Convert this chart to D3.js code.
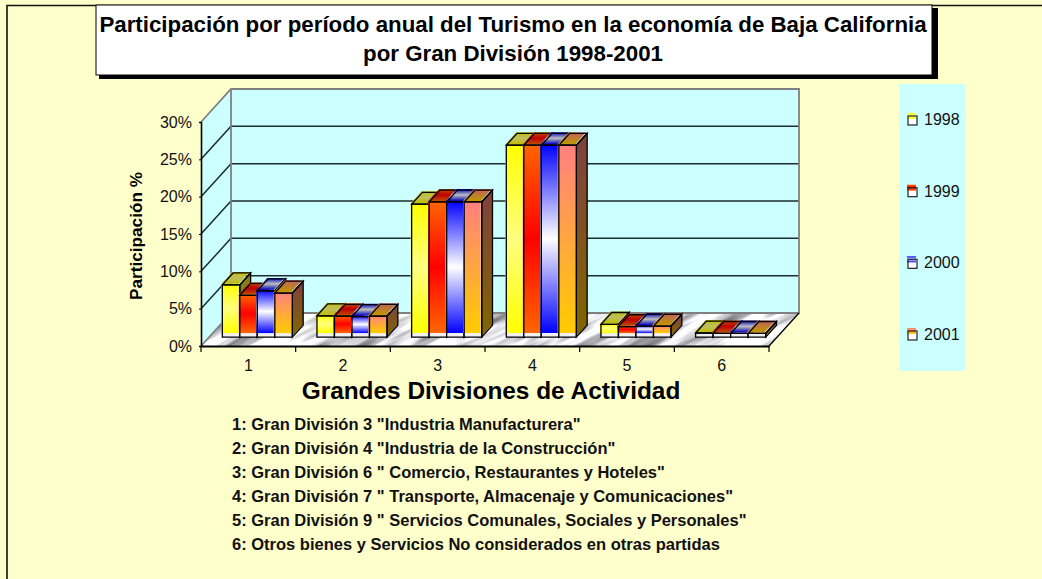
<!DOCTYPE html>
<html>
<head>
<meta charset="utf-8">
<script src="https://cdn.jsdelivr.net/npm/d3@7"></script>
<style>
  body { margin: 0; background: #ffffcc; }
  svg { display: block; font-family: "Liberation Sans", Arial, sans-serif; }
</style>
</head>
<body>
<script>
const years = ["1998", "1999", "2000", "2001"];
const divisions = ["1", "2", "3", "4", "5", "6"];
const values1998 = [7.0, 2.85, 17.8, 25.7, 1.7, 0.55];
const values1999 = [5.6, 2.8, 18.1, 25.7, 1.4, 0.5];
const values2000 = [6.2, 2.75, 18.1, 25.7, 1.47, 0.5];
const values2001 = [5.9, 2.8, 18.1, 25.7, 1.47, 0.5];
const yTicks = [0, 5, 10, 15, 20, 25, 30];
const titleLines = [
  "Participación por período anual del Turismo en la economía de Baja California",
  "por Gran División 1998-2001"
];
const notes = [
  '1: Gran División 3 "Industria Manufacturera"',
  '2: Gran División 4 "Industria de la Construcción"',
  '3: Gran División 6 " Comercio, Restaurantes y Hoteles"',
  '4: Gran División 7 " Transporte, Almacenaje y Comunicaciones"',
  '5: Gran División 9 " Servicios Comunales, Sociales y Personales"',
  "6: Otros bienes y Servicios No considerados en otras partidas"
];
const seriesValues = [values1998, values1999, values2000, values2001];
const seriesStops = [
  ["#ffff00", "#ffff80", "#ffff00"],
  ["#ff6600", "#ff0000", "#ff6600"],
  ["#0000ff", "#ffffff", "#0000ff"],
  ["#ff8080", "#ffcc00"]
];

const width = 1042, height = 579;
const svg = d3.select("body").append("svg").attr("width", width).attr("height", height);
const defs = svg.append("defs");

// plot geometry: front plane of the floor, and how far back the wall sits
const left = 201, right = 769, base = 346;
const depthX = 30, depthY = -33;

const x = d3.scaleBand().domain(divisions).range([left, right]);
const y = d3.scaleLinear().domain([0, 30]).range([base, base - 224]);
const inner = d3.scaleBand().domain(years).range([0, x.bandwidth() * 0.74]);

const barZ = 0.3, barDepth = 0.36; // bars stand inside the floor depth
const bw = inner.bandwidth();

function shade(c, k) {
  const r = d3.rgb(c);
  return d3.rgb(r.r * k, r.g * k, r.b * k).formatHex();
}
function gradient(id, stops, k) {
  const g = defs.append("linearGradient").attr("id", id)
    .attr("x1", 0).attr("y1", 0).attr("x2", 0).attr("y2", 1);
  stops.forEach((s, i) => {
    g.append("stop")
      .attr("offset", i / (stops.length - 1))
      .attr("stop-color", shade(s, k));
  });
}
seriesStops.forEach((stops, i) => {
  gradient("front" + i, stops, 1);
  gradient("top" + i, stops, 0.75);
  gradient("side" + i, stops, 0.5);
});

// marble floor
const marble = defs.append("filter").attr("id", "marble")
  .attr("x", 0).attr("y", 0).attr("width", 1).attr("height", 1)
  .attr("color-interpolation-filters", "sRGB");
marble.append("feTurbulence").attr("type", "fractalNoise")
  .attr("baseFrequency", "0.012 0.09").attr("numOctaves", 3).attr("seed", 7);
marble.append("feColorMatrix").attr("type", "matrix")
  .attr("values", "1.5 0 0 0 0.12  1.5 0 0 0 0.12  1.5 0 0 0 0.14  0 0 0 0 1");
defs.append("clipPath").attr("id", "floorClip").append("polygon")
  .attr("points", [[left, base], [left + depthX, base + depthY], [right + depthX, base + depthY], [right, base]].join(" "));

// outer frame, only top and left show
svg.append("path").attr("d", `M7,${height}V5.5H${width}`)
  .attr("fill", "none").attr("stroke", "#111").attr("stroke-width", 1.6);

// walls
const wall = svg.append("g");
wall.append("rect")
  .attr("x", left + depthX).attr("y", y(30) + depthY)
  .attr("width", right - left).attr("height", 224)
  .attr("fill", "#ccffff");
wall.append("polygon")
  .attr("points", [[left, y(30)], [left + depthX, y(30) + depthY], [left + depthX, base + depthY], [left, base]].join(" "))
  .attr("fill", "#ccffff");

wall.append("g").attr("clip-path", "url(#floorClip)")
  .append("rect")
  .attr("x", 100).attr("y", 80).attr("width", 900).attr("height", 400)
  .attr("transform", "rotate(-28 480 330)")
  .attr("filter", "url(#marble)");

// gridlines on the two walls
wall.selectAll(".grid").data(yTicks.slice(1, -1)).join("path")
  .attr("class", "grid")
  .attr("d", d => `M${left},${y(d)}L${left + depthX},${y(d) + depthY}H${right + depthX}`)
  .attr("fill", "none").attr("stroke", "#1c2c2c").attr("stroke-width", 1.5);

// wall edges
wall.append("path")
  .attr("d", `M${left},${y(30)}L${left + depthX},${y(30) + depthY}H${right + depthX}V${base + depthY}H${left + depthX}V${y(30) + depthY}M${left},${base}L${left + depthX},${base + depthY}`)
  .attr("fill", "none").attr("stroke", "#808080").attr("stroke-width", 1.8);
wall.append("path")
  .attr("d", `M${right},${base}L${right + depthX},${base + depthY}`)
  .attr("stroke", "#000").attr("stroke-width", 1.3);

// bars, left to right so each front covers its neighbour's side
const ox = depthX * barZ, oy = depthY * 0.27;
const dx = depthX * barDepth, dy = depthY * barDepth;

function barShapes(xl, top, bottom) {
  const xr = xl + bw;
  return {
    front: `M${xl},${top}H${xr}V${bottom}H${xl}Z`,
    top: `M${xl},${top}L${xl + dx},${top + dy}H${xr + dx}L${xr},${top}Z`,
    side: `M${xr},${top}L${xr + dx},${top + dy}V${bottom + dy}L${xr},${bottom}Z`
  };
}

const barsLayer = svg.append("g");
divisions.forEach((div, c) => {
  const gap = (x.bandwidth() - inner.range()[1]) / 2;
  years.forEach((yr, s) => {
    const v = seriesValues[s][c];
    const xl = x(div) + gap + inner(yr) + ox;
    const top = y(v) + oy;
    const bottom = base + oy;
    const g = barsLayer.append("g");
    // the fill sits a pixel up and left of its outline, and stops short of the base
    const filled = barShapes(xl - 1, top - 1, bottom - 4);
    const outline = barShapes(xl, top, bottom);
    g.append("path").attr("d", outline.front).attr("fill", "#f0f0f0");
    g.append("path").attr("d", filled.front).attr("fill", `url(#front${s})`);
    g.append("path").attr("d", filled.top).attr("fill", `url(#top${s})`);
    g.append("path").attr("d", barShapes(xl, top - 1, bottom - 1).side).attr("fill", `url(#side${s})`);
    ["front", "top", "side"].forEach(k => {
      g.append("path").attr("d", outline[k])
        .attr("fill", "none").attr("stroke", "#000").attr("stroke-width", 1.3);
    });
  });
});

// axes on the front plane
const yAxis = svg.append("g").attr("transform", `translate(${left},0)`)
  .call(d3.axisLeft(y).tickValues(yTicks).tickFormat(d => d + "%").tickSize(2).tickPadding(7));
yAxis.select(".domain").attr("stroke-width", 1.6).attr("stroke", "#000");
yAxis.selectAll("text").attr("font-size", 16).attr("font-family", "Liberation Sans").attr("fill", "#111");

const xAxis = svg.append("g").attr("transform", `translate(0,${base})`)
  .call(d3.axisBottom(x).tickSize(0).tickPadding(14));
xAxis.select(".domain").attr("stroke", "#000").attr("stroke-width", 2);
xAxis.selectAll("text").attr("font-size", 16).attr("font-family", "Liberation Sans").attr("fill", "#111");
svg.append("g").selectAll("line")
  .data(divisions.map(d => x(d)).concat(right)).join("line")
  .attr("x1", d => d).attr("x2", d => d)
  .attr("y1", base).attr("y2", base + 6)
  .attr("stroke", "#000").attr("stroke-width", 1.2);

// axis titles
svg.append("text")
  .attr("transform", "translate(142,236) rotate(-90)")
  .attr("text-anchor", "middle")
  .attr("font-weight", "bold").attr("font-size", 17.2)
  .text("Participación %");
svg.append("text")
  .attr("x", 491).attr("y", 399).attr("text-anchor", "middle")
  .attr("font-weight", "bold").attr("font-size", 24.4)
  .text("Grandes Divisiones de Actividad");

// division notes
svg.append("g").selectAll("text").data(notes).join("text")
  .attr("x", 232).attr("y", (d, i) => 430 + i * 23.9)
  .attr("font-weight", "bold").attr("font-size", 16.5)
  .attr("fill", "#111")
  .text(d => d);

// title box
svg.append("rect").attr("x", 99).attr("y", 8).attr("width", 839).attr("height", 71).attr("fill", "#000");
svg.append("rect").attr("x", 96).attr("y", 5).attr("width", 836).attr("height", 70)
  .attr("fill", "#fff").attr("stroke", "#000").attr("stroke-width", 1);
svg.append("g").selectAll("text").data(titleLines).join("text")
  .attr("x", 513).attr("y", (d, i) => 32 + i * 28.5)
  .attr("text-anchor", "middle")
  .attr("font-weight", "bold").attr("font-size", 22.3)
  .attr("fill", "#000")
  .text(d => d);

// legend
const legendY = d3.scalePoint().domain(years).range([119, 334]);
svg.append("rect").attr("x", 899).attr("y", 84).attr("width", 66).attr("height", 287).attr("fill", "#ccffff");
const legend = svg.append("g").selectAll("g").data(years).join("g")
  .attr("transform", d => `translate(0,${legendY(d)})`);
legend.append("rect").attr("x", 908).attr("y", -3).attr("width", 9).attr("height", 9).attr("fill", "#fff");
legend.append("rect").attr("x", 907).attr("y", -6).attr("width", 9).attr("height", 6)
  .attr("fill", (d, i) => `url(#front${i})`);
legend.append("rect").attr("x", 908).attr("y", -3).attr("width", 9).attr("height", 9)
  .attr("fill", "none").attr("stroke", "#222").attr("stroke-width", 1.2);
legend.append("text").attr("x", 924).attr("y", 6)
  .attr("font-size", 16).attr("fill", "#111")
  .text(d => d);
</script>
</body>
</html>
